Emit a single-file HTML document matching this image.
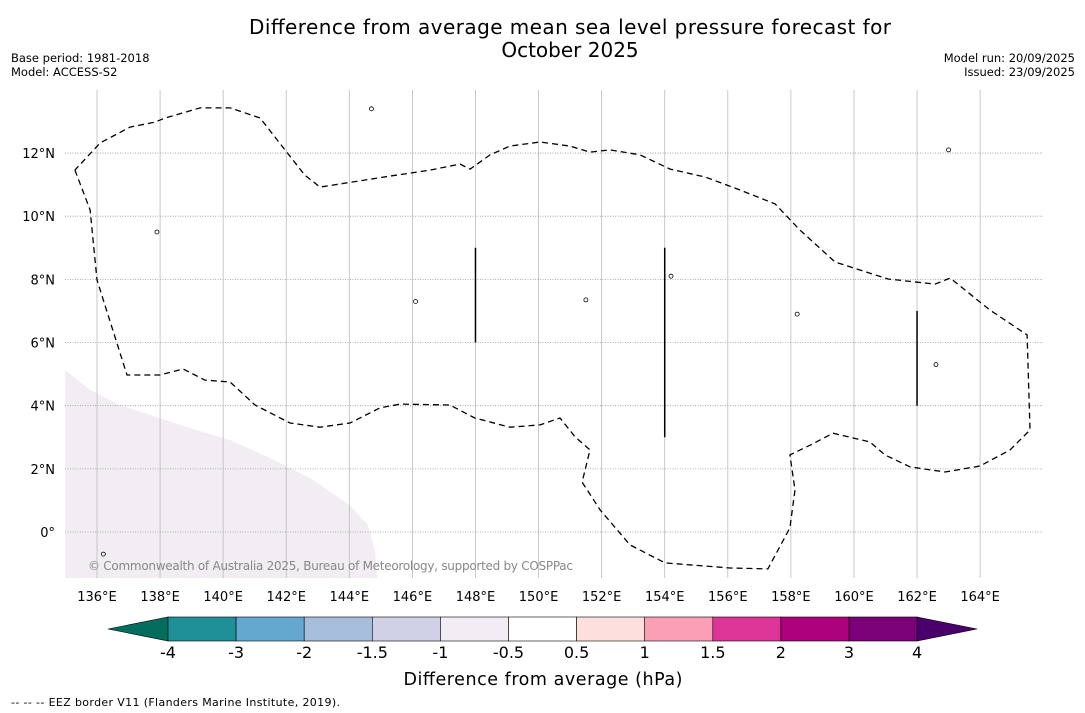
<!DOCTYPE html>
<html><head><meta charset="utf-8">
<style>
body{margin:0;background:#fff;font-family:"DejaVu Sans","Liberation Sans",sans-serif;}
svg{display:block}
</style></head>
<body>
<svg id="chart" width="1085" height="713" viewBox="0 0 1085 713" xmlns="http://www.w3.org/2000/svg">
<rect width="1085" height="713" fill="#fff"/>
<text x="570" y="34" font-size="20" text-anchor="middle" textLength="642">Difference from average mean sea level pressure forecast for</text>
<text x="570" y="57" font-size="20" text-anchor="middle">October 2025</text>
<text x="11" y="62" font-size="11.5">Base period: 1981-2018</text>
<text x="11" y="76" font-size="11.5">Model: ACCESS-S2</text>
<text x="1075" y="62" font-size="11.5" text-anchor="end">Model run: 20/09/2025</text>
<text x="1075" y="76" font-size="11.5" text-anchor="end">Issued: 23/09/2025</text>
<g id="map"></g>
<g id="cbar"></g>
<text x="543" y="685" font-size="17.5" text-anchor="middle" textLength="279">Difference from average (hPa)</text>
<text x="11" y="706" font-size="11" textLength="329">--  --  -- EEZ border V11 (Flanders Marine Institute, 2019).</text>
</svg>
<script>
const lonTicks=[136,138,140,142,144,146,148,150,152,154,156,158,160,162,164];
const latTicks=[0,2,4,6,8,10,12];
const eezLon=[135.30,135.78,136.0,136.95,138.0,138.73,139.42,140.22,141.01,142.12,143.07,144.02,144.97,145.61,147.19,147.98,149.09,150.05,150.68,151.16,151.63,151.38,151.95,152.90,154.01,156.07,157.27,157.97,158.13,157.97,158.61,159.34,160.51,160.98,161.78,162.89,164.0,164.95,165.58,165.49,164.31,163.05,162.57,161.08,159.40,158.29,157.50,156.23,155.28,154.17,153.22,152.27,151.63,151.0,150.05,149.09,148.46,147.83,147.51,146.56,145.29,143.07,142.59,141.96,141.17,140.22,139.27,138.16,137.84,137.05,136.10,135.30];
const eezLat=[11.46,10.20,7.98,4.97,4.97,5.16,4.81,4.75,4.02,3.45,3.32,3.45,3.93,4.05,4.02,3.61,3.32,3.39,3.61,3.01,2.60,1.58,0.70,-0.41,-0.98,-1.14,-1.17,0.13,1.33,2.44,2.75,3.13,2.85,2.44,2.06,1.90,2.09,2.60,3.23,6.24,7.03,8.04,7.85,8.01,8.55,9.56,10.39,10.89,11.24,11.49,11.94,12.10,12.03,12.22,12.35,12.22,11.94,11.49,11.65,11.46,11.27,10.92,11.30,12.10,13.11,13.43,13.43,13.11,12.98,12.82,12.32,11.46];
const anomLon=[134.99,135.78,136.73,138.63,140.22,141.49,142.75,144.02,144.59,144.81,144.88,134.99];
const anomLat=[5.13,4.50,4.02,3.39,2.91,2.34,1.71,0.85,0.22,-0.57,-1.46,-1.46];
const segLon=[148,154,162];
const segLat0=[9,9,7];
const segLat1=[6,3,4];
const islandLon=[144.7,137.9,151.5,158.2,162.6,154.2,146.1,136.2,163.0];
const islandLat=[13.4,9.5,7.35,6.9,5.3,8.1,7.3,-0.7,12.1];
const cbLevels=["-4","-3","-2","-1.5","-1","-0.5","0.5","1","1.5","2","3","4"];
const cbColors=["#1f9097","#64a8cf","#a6bddb","#d0d1e6","#f2ecf4","#ffffff","#fde0dd","#fa9fb5","#dd3497","#ae017e","#7a0177"];
const cbLow="#036e5d", cbHigh="#49006a";

const NS="http://www.w3.org/2000/svg";
const X0=65,X1=1043,Y0=90,Y1=578;
const x=lon=>97+(lon-136)*31.54;
const y=lat=>532-lat*31.58;
function mk(tag,attrs,parent){const e=document.createElementNS(NS,tag);for(const k in attrs)e.setAttribute(k,attrs[k]);parent.appendChild(e);return e;}
const map=document.getElementById('map');
const clip=mk('clipPath',{id:'mc'},map);mk('rect',{x:X0,y:Y0,width:X1-X0,height:Y1-Y0},clip);
const inner=mk('g',{'clip-path':'url(#mc)'},map);
let d=anomLon.map((v,i)=>(i?'L':'M')+x(v).toFixed(1)+','+y(anomLat[i]).toFixed(1)).join('')+'Z';
const an=mk('path',{d:d,fill:'#f2edf3',stroke:'none'},inner);


lonTicks.forEach(v=>{
 const l=mk('line',{x1:x(v),x2:x(v),y1:Y0,y2:Y1,stroke:'#bbb','stroke-width':0.8},inner);
 
 
 const t=mk('text',{x:x(v),y:Y1+23,'font-size':13,'text-anchor':'middle'},map);
 t.textContent=v+'°E';
 
 
});
latTicks.forEach(v=>{
 const l=mk('line',{x1:X0,x2:X1,y1:y(v),y2:y(v),stroke:'#999','stroke-width':0.8,'stroke-dasharray':'1,1.5'},inner);
 
 
 const t=mk('text',{x:55,y:y(v)+5,'font-size':13,'text-anchor':'end'},map);
 t.textContent=v===0?'0°':v+'°N';
 
 
});
islandLon.forEach((v,i)=>{
 const c=mk('circle',{cx:x(v),cy:y(islandLat[i]),r:2,fill:'none',stroke:'#000','stroke-width':0.8},inner);
 
 
});
d=eezLon.map((v,i)=>(i?'L':'M')+x(v).toFixed(1)+','+y(eezLat[i]).toFixed(1)).join('');
const ez=mk('path',{d:d,fill:'none',stroke:'#000','stroke-width':1.3,'stroke-dasharray':'6,4'},inner);


segLon.forEach((v,i)=>{
 const l=mk('line',{x1:x(v),x2:x(v),y1:y(segLat0[i]),y2:y(segLat1[i]),stroke:'#000','stroke-width':1.5},inner);
 
 
});
const cp=mk('text',{x:88,y:570,'font-size':12,fill:'#888',textLength:485},inner);
cp.textContent='© Commonwealth of Australia 2025, Bureau of Meteorology, supported by COSPPac';



const cb=document.getElementById('cbar');
const CX0=168,CW=68.1,CY=617,CH=24;
const lt=mk('polygon',{points:`108,${CY+CH/2} ${CX0},${CY} ${CX0},${CY+CH}`,fill:cbLow,stroke:'#000','stroke-width':0.6},cb);


const rx=CX0+CW*cbColors.length;
const rt=mk('polygon',{points:`${rx},${CY} ${rx+60},${CY+CH/2} ${rx},${CY+CH}`,fill:cbHigh,stroke:'#000','stroke-width':0.6},cb);


cbColors.forEach((c,i)=>{
 const r=mk('rect',{x:CX0+CW*i,y:CY,width:CW,height:CH,fill:c,stroke:'#000','stroke-width':0.6},cb);
 
 
});
cbLevels.forEach((s,i)=>{
 const t=mk('text',{x:CX0+CW*i,y:658,'font-size':16,'text-anchor':'middle'},cb);
 t.textContent=s;
 
 
});
</script>
</body></html>
